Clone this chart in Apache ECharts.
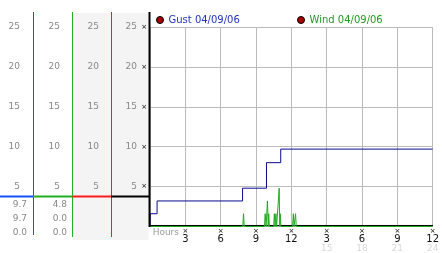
<!DOCTYPE html>
<html>
<head>
<meta charset="utf-8">
<script src="https://cdn.jsdelivr.net/npm/echarts@6/dist/echarts.min.js"></script>
<style>html,body{margin:0;padding:0;background:#fff}#c{width:442px;height:253px}</style>
</head>
<body>
<div id="c"></div>
<script>
// ---- data ----
const seriesNames = ['Gust 04/09/06', 'Wind 04/09/06'];
const gustHours  = [0, 0.02, 0.6, 7.86, 9.89, 11.1, 24];
const gustValues = [0, 1.6, 3.2, 4.8, 8.0, 9.7, 9.7];
const windHours  = [0, 7.88, 7.94, 8.0, 9.72, 9.78, 9.86, 9.97, 10.04, 10.08, 10.13,
                    10.5, 10.56, 10.62, 10.69, 10.75, 10.91, 10.97, 11.02, 11.06, 11.11,
                    12.11, 12.17, 12.23, 12.3, 12.36, 12.42, 24];
const windValues = [0, 0, 1.6, 0, 0, 1.6, 0, 3.2, 0, 1.6, 0,
                    0, 1.6, 0, 1.6, 0, 0, 4.8, 0, 1.6, 0,
                    0, 1.6, 0, 0, 1.6, 0, 0];
const hourTicks    = [0, 3, 6, 9, 12, 15, 18, 21, 24];
const hourLabels   = ['Hours', '3', '6', '9', '12', '3', '6', '9', '12'];
const hourLabels24 = ['', '', '', '', '', '15', '18', '21', '24'];
const gustStats = ['9.7', '9.7', '0.0'];
const windStats = ['4.8', '0.0', '0.0'];

const FF = 'DejaVu Sans';
const chart = echarts.init(document.getElementById('c'));

function yLab(v){ return v === 0 ? '' : String(v); }

function yAx(extra){
  return Object.assign({ type:'value', min:0, max:25, interval:5, gridIndex:0, position:'left',
    axisLine:{show:false}, axisTick:{show:false}, splitLine:{show:false} }, extra);
}

const BLUE = '#1450ff', GREEN = '#22b022', RED = '#ff1a1a';
const graphic = [
  {type:'rect', z:-10, shape:{x:73, y:13, width:75.5, height:227}, style:{fill:'#f4f4f4'}},
  {type:'line', z:5, shape:{x1:33.5, y1:12, x2:33.5, y2:235}, style:{stroke:BLUE, lineWidth:1}},
  {type:'line', z:5, shape:{x1:72.5, y1:12, x2:72.5, y2:237}, style:{stroke:GREEN, lineWidth:1}},
  {type:'line', z:5, shape:{x1:111.5, y1:12, x2:111.5, y2:237}, style:{stroke:RED, lineWidth:1}},
  {type:'line', z:5, shape:{x1:149.5, y1:12, x2:149.5, y2:227}, style:{stroke:'#000', lineWidth:2}},
  {type:'line', z:6, shape:{x1:0, y1:196.5, x2:33, y2:196.5}, style:{stroke:BLUE, lineWidth:2}},
  {type:'line', z:6, shape:{x1:33, y1:196.5, x2:72.5, y2:196.5}, style:{stroke:GREEN, lineWidth:2}},
  {type:'line', z:6, shape:{x1:72.5, y1:196.5, x2:111, y2:196.5}, style:{stroke:RED, lineWidth:2}},
  {type:'line', z:6, shape:{x1:111, y1:196.5, x2:149, y2:196.5}, style:{stroke:'#000', lineWidth:2}}
];
const statYs = [205, 219, 232.5];
gustStats.forEach((t,i)=>graphic.push({type:'text', style:{text:t, x:27, y:statYs[i], align:'right', verticalAlign:'middle', fill:'#888', font:'9px "DejaVu Sans"'}}));
windStats.forEach((t,i)=>graphic.push({type:'text', style:{text:t, x:67, y:statYs[i], align:'right', verticalAlign:'middle', fill:'#888', font:'9px "DejaVu Sans"'}}));

const legendCommon = { orient:'horizontal', top:15, padding:0, itemWidth:7, itemHeight:7, icon:'circle',
  itemStyle:{color:'#a80000', borderColor:'#000', borderWidth:1}, textStyle:{fontSize:10, fontFamily:FF} };

chart.setOption({
  animation:false,
  backgroundColor:'#fff',
  graphic: graphic,
  legend:[
    Object.assign({}, legendCommon, {left:156, data:[{name:seriesNames[0], textStyle:{color:'#2233bb'}}]}),
    Object.assign({}, legendCommon, {left:297, data:[{name:seriesNames[1], textStyle:{color:'#1f9a1f'}}]})
  ],
  grid:{left:150, right:4, top:27, bottom:26, show:false},
  xAxis:{ type:'value', min:0, max:24, interval:3, offset:-1,
    axisLine:{show:true, lineStyle:{color:'#000', width:1}},
    axisTick:{show:false},
    splitLine:{show:true, lineStyle:{color:'#bbbbbb', width:1}},
    axisLabel:{ margin:2, fontFamily:FF,
      formatter:function(v){
        const i = hourTicks.indexOf(v);
        if (i < 0) return '';
        if (i === 0) return '{h|' + hourLabels[0] + '}';
        let s = '{m|×}\n{n|' + hourLabels[i] + '}';
        if (hourLabels24[i]) s += '\n{s|' + hourLabels24[i] + '}';
        return s;
      },
      rich:{
        h:{fontSize:9, color:'#999', width:58, align:'right', lineHeight:10, fontFamily:FF},
        m:{fontSize:7, color:'#000', lineHeight:7, fontFamily:FF},
        n:{fontSize:10, color:'#111', lineHeight:9, fontFamily:FF},
        s:{fontSize:9, color:'#d8d8d8', lineHeight:10, fontFamily:FF}
      }
    }
  },
  yAxis:[
    yAx({
      splitLine:{show:true, lineStyle:{color:'#bbbbbb', width:1}},
      axisLabel:{margin:3, formatter:function(v){ return v===0 ? '' : '{a|'+v+'}{m|×}'; },
        rich:{a:{fontSize:9, color:'#888', fontFamily:FF}, m:{fontSize:7, color:'#000', width:10, align:'right', fontFamily:FF}}}
    }),
    yAx({offset:43, axisLabel:{margin:8, fontSize:9, color:'#888', fontFamily:FF, formatter:yLab}}),
    yAx({offset:82, axisLabel:{margin:8, fontSize:9, color:'#888', fontFamily:FF, formatter:yLab}}),
    yAx({offset:122, axisLabel:{margin:8, fontSize:9, color:'#888', fontFamily:FF, formatter:yLab}})
  ],
  series:[
    { name:seriesNames[0], type:'line', step:'end', showSymbol:false, symbol:'none',
      color:'#0a0a90', lineStyle:{width:1, color:'#0a0a90'}, z:3,
      data: gustHours.map((h,i)=>[h, gustValues[i]]) },
    { name:seriesNames[1], type:'line', showSymbol:false, symbol:'none',
      color:'#22aa22', lineStyle:{width:1, color:'#22aa22'}, z:2,
      data: windHours.map((h,i)=>[h, windValues[i]]) }
  ]
});
</script>
</body>
</html>
